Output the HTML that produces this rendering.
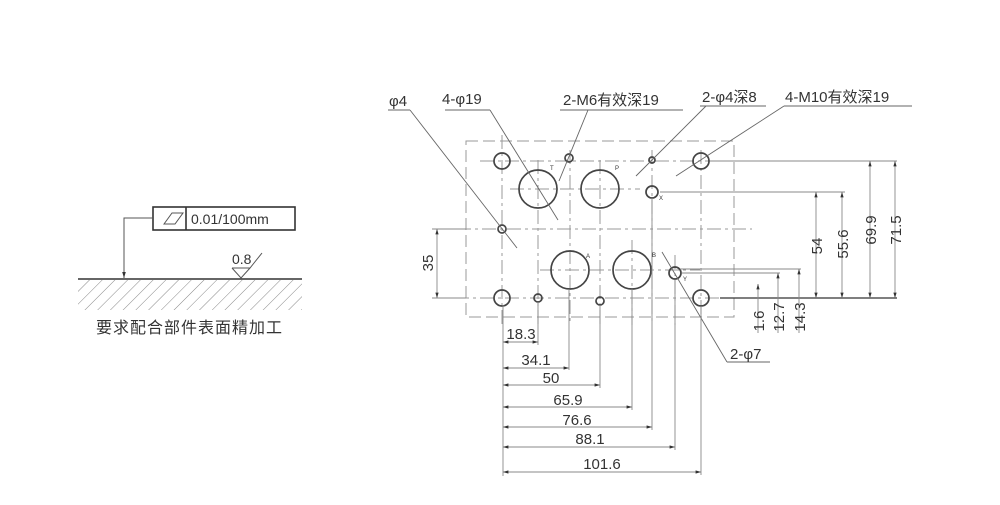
<!DOCTYPE html>
<html><head><meta charset="utf-8"><style>
html,body{margin:0;padding:0;background:#fff;width:1000px;height:505px;overflow:hidden}
text{font-family:"Liberation Sans","Noto Sans CJK SC",sans-serif;fill:#333}
</style></head><body>
<svg width="1000" height="505" viewBox="0 0 1000 505" xmlns="http://www.w3.org/2000/svg">
<defs>
<pattern id="h" width="9" height="9" patternUnits="userSpaceOnUse" patternTransform="rotate(45)">
<line x1="0" y1="0" x2="0" y2="9" stroke="#888" stroke-width="1"/></pattern>
<marker id="a" viewBox="0 0 10 10" refX="10" refY="5" markerWidth="6" markerHeight="6" orient="auto-start-reverse"><path d="M0,2L10,5L0,8z" fill="#333"/></marker>
</defs>
<!-- left drawing -->
<rect x="78" y="280" width="224" height="30" fill="url(#h)"/>
<line x1="78" y1="279" x2="302" y2="279" stroke="#333" stroke-width="1.5"/>
<rect x="153" y="207" width="142" height="23" fill="none" stroke="#333" stroke-width="1.6"/>
<line x1="186" y1="207" x2="186" y2="230" stroke="#333" stroke-width="1.6"/>
<path d="M164,224 L172,213 L183,213 L175,224z" fill="none" stroke="#555"/>
<text x="191" y="224" font-size="14">0.01/100mm</text>
<polyline points="153,218 124,218 124,278" fill="none" stroke="#555" marker-end="url(#a)"/>
<text x="232" y="264" font-size="14">0.8</text>
<polyline points="232,268 241,278 250,268 262,253" fill="none" stroke="#555"/>
<line x1="232" y1="268" x2="250" y2="268" stroke="#555"/>
<text x="96" y="333" font-size="16" letter-spacing="1">要求配合部件表面精加工</text>

<g fill="none" stroke="#999" stroke-width="1">
<rect x="466" y="141" width="268" height="176" stroke-dasharray="12,5"/>
<g stroke-dasharray="14,4,3,4">
<line x1="432" y1="229" x2="752" y2="229"/>
<line x1="455" y1="298" x2="752" y2="298"/>
<line x1="480" y1="161" x2="730" y2="161"/>
<line x1="510" y1="189" x2="640" y2="189"/>
<line x1="540" y1="270" x2="700" y2="270"/>
<line x1="502" y1="135" x2="502" y2="325"/>
<line x1="538" y1="160" x2="538" y2="325"/>
<line x1="570" y1="150" x2="570" y2="325"/>
<line x1="600" y1="160" x2="600" y2="325"/>
<line x1="632" y1="240" x2="632" y2="325"/>
<line x1="652" y1="150" x2="652" y2="325"/>
<line x1="675" y1="255" x2="675" y2="325"/>
<line x1="701" y1="150" x2="701" y2="325"/>
</g>
</g>
<g fill="none" stroke="#444" stroke-width="1.7">
<circle cx="502" cy="161" r="8"/><circle cx="701" cy="161" r="8"/>
<circle cx="502" cy="298" r="8"/><circle cx="701" cy="298" r="8"/>
<circle cx="538" cy="189" r="19"/><circle cx="600" cy="189" r="19"/>
<circle cx="570" cy="270" r="19"/><circle cx="632" cy="270" r="19"/>
<circle cx="569" cy="158" r="4"/><circle cx="652" cy="160" r="3"/>
<circle cx="652" cy="192" r="6"/><circle cx="675" cy="273" r="6"/>
<circle cx="502" cy="229" r="4"/><circle cx="538" cy="298" r="4"/><circle cx="600" cy="301" r="4"/>
</g>
<g style="font-size:6px"><text x="550" y="170">T</text><text x="615" y="170">P</text><text x="659" y="200">X</text><text x="586" y="258">A</text><text x="652" y="257">B</text><text x="683" y="281">Y</text></g>

<!-- leaders -->
<g stroke="#666" stroke-width="0.9" fill="none">
<line x1="388" y1="110" x2="410" y2="110"/><line x1="410" y1="110" x2="517" y2="248"/>
<line x1="445" y1="110" x2="490" y2="110"/><line x1="490" y1="110" x2="558" y2="220"/>
<line x1="560" y1="110" x2="683" y2="110"/><line x1="588" y1="110" x2="559" y2="181"/>
<line x1="700" y1="106" x2="766" y2="106"/><line x1="706" y1="106" x2="636" y2="176"/>
<line x1="784" y1="106" x2="912" y2="106"/><line x1="784" y1="106" x2="676" y2="176"/>
<line x1="662" y1="252" x2="727" y2="362"/><line x1="727" y1="362" x2="770" y2="362"/>
</g>
<g font-size="15">
<text x="389" y="106">φ4</text><text x="442" y="104">4-φ19</text>
<text x="563" y="105">2-M6有效深19</text>
<text x="702" y="102">2-φ4深8</text><text x="785" y="102">4-M10有效深19</text>
<text x="730" y="359">2-φ7</text>
</g>

<!-- right dims -->
<g stroke="#888" stroke-width="0.9" fill="none">
<line x1="710" y1="161" x2="897" y2="161"/>
<line x1="660" y1="192" x2="845" y2="192"/>
<line x1="680" y1="269" x2="801" y2="269"/>
<line x1="682" y1="273" x2="780" y2="273"/>
<line x1="720" y1="298" x2="897" y2="298" stroke="#333" stroke-width="1.3"/>
<g marker-start="url(#a)" marker-end="url(#a)">
<line x1="816" y1="298" x2="816" y2="192"/>
<line x1="842" y1="298" x2="842" y2="192"/>
<line x1="870" y1="298" x2="870" y2="161"/>
<line x1="895" y1="298" x2="895" y2="161"/>
<line x1="437" y1="229" x2="437" y2="298"/>
<line x1="503" y1="342" x2="538" y2="342"/>
<line x1="503" y1="368" x2="569" y2="368"/>
<line x1="503" y1="385" x2="600" y2="385"/>
<line x1="503" y1="407" x2="632" y2="407"/>
<line x1="503" y1="427" x2="652" y2="427"/>
<line x1="503" y1="447" x2="675" y2="447"/>
<line x1="503" y1="472" x2="701" y2="472"/>
</g>
<line x1="758" y1="284" x2="758" y2="333" marker-start="url(#a)"/>
<line x1="778" y1="273" x2="778" y2="333" marker-start="url(#a)"/>
<line x1="799" y1="269" x2="799" y2="333" marker-start="url(#a)"/>
<line x1="432" y1="229" x2="466" y2="229"/>
<line x1="432" y1="298" x2="466" y2="298"/>
<line x1="503" y1="305" x2="503" y2="476"/>
<line x1="538" y1="302" x2="538" y2="345"/>
<line x1="569" y1="289" x2="569" y2="370"/>
<line x1="600" y1="305" x2="600" y2="388"/>
<line x1="632" y1="289" x2="632" y2="410"/>
<line x1="652" y1="198" x2="652" y2="430"/>
<line x1="675" y1="280" x2="675" y2="450"/>
<line x1="701" y1="306" x2="701" y2="475"/>
</g>
<g font-size="15">
<text transform="translate(822,246) rotate(-90)" text-anchor="middle">54</text>
<text transform="translate(848,244) rotate(-90)" text-anchor="middle">55.6</text>
<text transform="translate(876,230) rotate(-90)" text-anchor="middle">69.9</text>
<text transform="translate(901,230) rotate(-90)" text-anchor="middle">71.5</text>
<text transform="translate(764,321) rotate(-90)" text-anchor="middle">1.6</text>
<text transform="translate(784,317) rotate(-90)" text-anchor="middle">12.7</text>
<text transform="translate(805,317) rotate(-90)" text-anchor="middle">14.3</text>
<text transform="translate(433,263) rotate(-90)" text-anchor="middle">35</text>
<text x="521" y="339" text-anchor="middle">18.3</text>
<text x="536" y="365" text-anchor="middle">34.1</text>
<text x="551" y="383" text-anchor="middle">50</text>
<text x="568" y="405" text-anchor="middle">65.9</text>
<text x="577" y="425" text-anchor="middle">76.6</text>
<text x="590" y="444" text-anchor="middle">88.1</text>
<text x="602" y="469" text-anchor="middle">101.6</text>
</g>
</svg>
</body></html>
